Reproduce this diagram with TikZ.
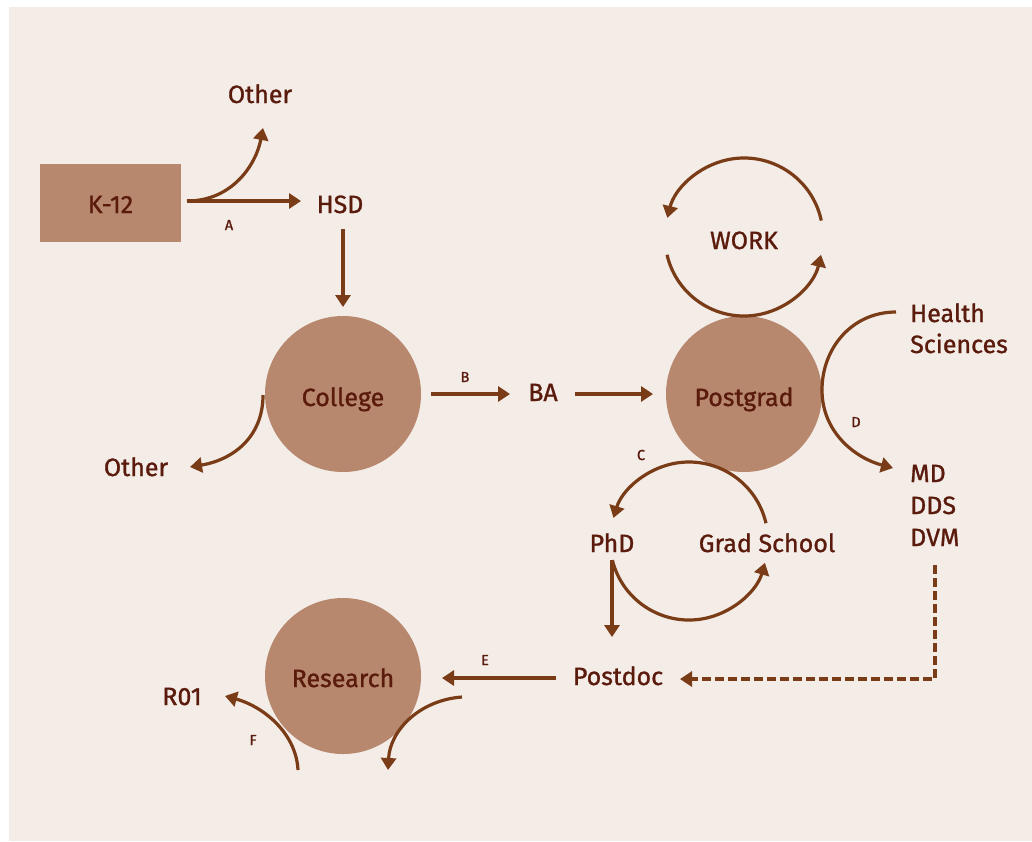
\documentclass[tikz,border=0pt]{standalone}
\usepackage{fontspec}
\setmainfont{Fira Sans}
\newfontfamily\medfont{Fira Sans}[FakeBold=1.1]
\usetikzlibrary{arrows.meta}
\definecolor{panelbg}{HTML}{F3ECE7}
\definecolor{blob}{HTML}{B7886E}
\definecolor{ink}{HTML}{5A1A0C}
\definecolor{arrowc}{HTML}{7A3B17}
\begin{document}
\begin{tikzpicture}[x=1pt,y=-1pt,
  lbl/.style={text=ink,font=\medfont\fontsize{25}{31}\selectfont,inner sep=0pt,anchor=base},
  lblw/.style={lbl,anchor=base west},
  small/.style={text=ink,font=\medfont\fontsize{14.5}{16}\selectfont,inner sep=0pt,anchor=base},
  blobc/.style={circle,fill=blob,minimum size=156pt,inner sep=0pt},
  conn/.style={draw=arrowc,line width=3.2pt,-{Triangle[length=12pt,width=15pt]}},
  dconn/.style={conn,dash pattern=on 9pt off 4pt}]
\useasboundingbox (0,0) rectangle (1032,841);
\fill[white] (0,0) rectangle (1032,841);
\fill[panelbg] (9,7) rectangle (1032,841);

% shapes
\node[fill=blob,minimum width=141pt,minimum height=78pt,inner sep=0pt] (k12) at (110.5,203) {};
\node[blobc] (college) at (343,394) {};
\node[blobc] (postgrad) at (744,394) {};
\node[blobc] (research) at (343,676) {};

% texts
\node[lbl] (k12t) at (110.5,213) {K-12};
\node[lbl] (other1) at (260,103) {Other};
\node[lbl] (hsd) at (340,213) {HSD};
\node[lbl] (colleget) at (343,406) {College};
\node[lbl] (other2) at (136,476) {Other};
\node[lbl] (ba) at (543,401) {BA};
\node[lbl] (postgradt) at (744,406) {Postgrad};
\node[lbl] (work) at (744,249) {WORK};
\node[lblw] (health) at (910,322) {Health};
\node[lblw] (sciences) at (910,353) {Sciences};
\node[lblw] (md) at (910,482) {MD};
\node[lblw] (dds) at (910,514) {DDS};
\node[lblw] (dvm) at (910,546) {DVM};
\node[lbl] (phd) at (612,552) {PhD};
\node[lbl] (grad) at (767,552) {Grad School};
\node[lbl] (postdoc) at (618,685) {Postdoc};
\node[lbl] (researcht) at (343,687) {Research};
\node[lbl] (r01) at (182,705) {R01};

\node[small] (la) at (229,230) {A};
\node[small] (lb) at (465,382) {B};
\node[small] (lc) at (641,460) {C};
\node[small] (ld) at (856,427) {D};
\node[small] (le) at (485,665) {E};
\node[small] (lf) at (253,745) {F};

% coordinates for connector ends
\coordinate (aS) at (187,201);
\coordinate (aE) at (301,201);
\coordinate (oE) at (263,128);
\coordinate (hS) at (343,229);
\coordinate (hE) at (343,307);
\coordinate (cS) at (263,395);
\coordinate (cE) at (190,467);
\coordinate (bS) at (431,394);
\coordinate (bE) at (510,394);
\coordinate (baS) at (575,394);
\coordinate (baE) at (653,394);
\coordinate (dS) at (896,312);
\coordinate (dM) at (822,390);
\coordinate (dE) at (893,468);
\coordinate (vS) at (935,565);
\coordinate (vC) at (935,679);
\coordinate (vE) at (680,679);
\coordinate (pS) at (612,560);
\coordinate (pE) at (612,637);
\coordinate (eS) at (556,678);
\coordinate (eE) at (442,678);
\coordinate (rS) at (462,697);
\coordinate (rE) at (388,770);
\coordinate (fS) at (298,770);
\coordinate (fE) at (225,696);
\coordinate (wC) at (744,237);
\coordinate (gC) at (689,541);

% connectors
\draw[conn] (aS) -- (aE);
\draw[conn] (aS) .. controls (232,201) and (256,165) .. (oE);
\draw[conn] (hS) -- (hE);
\draw[conn] (cS) .. controls (263,438) and (232,460) .. (cE);
\draw[conn] (bS) -- (bE);
\draw[conn] (baS) -- (baE);
\draw[conn] (dS) .. controls (852,312) and (822,348) .. (dM) .. controls (822,432) and (855,458) .. (dE);
\draw[dconn] (vS) -- (vC) -- (vE);
\draw[conn] (pS) -- (pE);
\draw[conn] (eS) -- (eE);
\draw[conn] (rS) .. controls (420,700) and (390,730) .. (rE);
\draw[conn] (fS) .. controls (296,732) and (262,706) .. (fE);

% WORK cycle
\draw[conn] (wC) ++(-12:79) arc[start angle=-12,end angle=-166,radius=79];
\draw[conn] (wC) ++(-193:79) arc[start angle=-193,end angle=-347,radius=79];
% C cycle
\draw[conn] (gC) ++(-13:79) arc[start angle=-13,end angle=-163,radius=79];
\draw[conn] (gC) ++(-194:79) arc[start angle=-194,end angle=-344,radius=79];
\end{tikzpicture}
\end{document}
